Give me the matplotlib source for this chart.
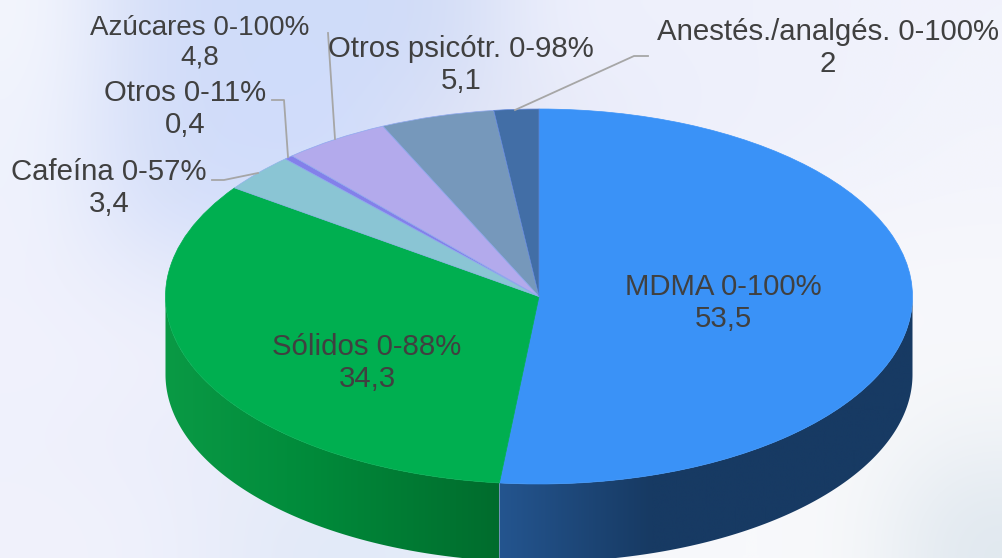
import numpy as np
import matplotlib
matplotlib.use('Agg')
import matplotlib.pyplot as plt
from matplotlib.colors import to_rgb
from matplotlib.patches import Polygon

names = ['MDMA 0-100%', 'Sólidos 0-88%', 'Cafeína 0-57%', 'Otros 0-11%',
         'Azúcares 0-100%', 'Otros psicótr. 0-98%', 'Anestés./analgés. 0-100%']
values = [53.5, 34.3, 3.4, 0.4, 4.8, 5.1, 2]
value_labels = ['53,5', '34,3', '3,4', '0,4', '4,8', '5,1', '2']
colors = ['#3a92f7', '#00af50', '#8ac5d4', '#8380ea', '#b3aaec', '#7698bb', '#426ea6']
edges = ['#3a92f7', '#00af50', '#8fb4e8', '#8fa8ee', '#8fa8ee', '#8fa8ee', '#5f86d8']

W, H = 1002, 558
cx, cy, rx, ry, depth = 539, 296.5, 373.5, 187.5, 78

# label centres in pixels
label_pos = [(723, 303), (367, 363), (109, 188), (185, 109), (200, 43), (461, 65), (828, 48)]
label_sizes = [21.2, 21.2, 21.2, 21.2, 20, 21.2, 21.2]
leaders = [
    [(328, 33), (335, 139)],
    [(272, 100), (284, 100), (288, 157)],
    [(212, 180), (224, 180), (258, 173)],
    [(515, 110), (634, 56), (648, 56)],
]

# soft page background
bg = np.array([
    ['#f4f6fd', '#d3ddf8', '#cfdcfa', '#cfdcfa', '#d2dcf6', '#eef0fc', '#eef0fc', '#eff1fc', '#f0f2fc', '#f2f3fc'],
    ['#f0f3fd', '#d3ddf8', '#d0dcfb', '#d0dcfb', '#dde2f6', '#e6e9f8', '#eceefb', '#eff1fc', '#f0f2fc', '#f3f4fc'],
    ['#f0f3fd', '#d6dff9', '#d2defb', '#d2defb', '#e3e7f8', '#eef0fb', '#f0f2fc', '#f2f3fc', '#f3f4fc', '#f4f5fc'],
    ['#f0f1fc', '#e8ecfb', '#e4e9fa', '#e8ecfa', '#eef0fb', '#f2f3fc', '#f4f5fc', '#f6f6fc', '#f7f7fc', '#f7f8fc'],
    ['#f1f2fd', '#f0f1fc', '#eef0fc', '#eff1fc', '#f2f3fc', '#f5f6fc', '#f7f8fc', '#f8f9fc', '#f8f9fb', '#f7f8fb'],
    ['#eff1fc', '#eceefb', '#e9ecf9', '#eef1fb', '#f0f3fb', '#f6f7fc', '#f8f9fc', '#f8f9fb', '#f8f9fb', '#f0f3f7'],
    ['#f1f2fc', '#eff1fc', '#e6ebf9', '#e0e9f8', '#e6edf9', '#f3f5fb', '#f8f9fc', '#f8f9fb', '#f8f9fb', '#e0e8ef'],
])
bg_rgb = np.array([[to_rgb(c) for c in row] for row in bg])

fig = plt.figure(figsize=(W / 100, H / 100), dpi=100)
ax = fig.add_axes([0, 0, 1, 1])

wedges, _ = ax.pie(values, colors=colors, startangle=90, counterclock=False, radius=1)
for w, e in zip(wedges, edges):
    w.set_zorder(3)
    w.set_edgecolor(e)
    w.set_linewidth(0.5)

ax.set_aspect('auto')
xlim = (-cx / rx, (W - cx) / rx)
ylim = ((cy - H) / ry, cy / ry)
ax.imshow(bg_rgb, extent=(*xlim, *ylim), aspect='auto', interpolation='bicubic', zorder=0)
ax.set_xlim(xlim)
ax.set_ylim(ylim)
ax.axis('off')

# side wall, a horizontal gradient clipped to each slice's rim
fracs = np.cumsum([0] + values) / sum(values)
d = depth / ry
side_shades = {
    0: ([-0.105, 0.3, 1.0], ['#24558f', '#173a63', '#173a63']),
    1: ([-1.0, -0.6, -0.105], ['#0a9a45', '#008a3a', '#006c2d']),
}
for i, (xs, cols) in side_shades.items():
    a0 = max(90 - 360 * fracs[i + 1], -180)
    a1 = min(90 - 360 * fracs[i], 0)
    t = np.radians(np.linspace(a0, a1, 300))
    top = np.column_stack([np.cos(t), np.sin(t)])
    bottom = np.column_stack([np.cos(t), np.sin(t) - d])[::-1]
    clip = Polygon(np.vstack([top, bottom]), closed=True, transform=ax.transData)
    rgb = np.array([to_rgb(c) for c in cols])
    gx = np.linspace(np.cos(t).min(), np.cos(t).max(), 400)
    grad = np.stack([np.interp(gx, xs, rgb[:, j]) for j in range(3)], axis=-1)[None, :, :]
    im = ax.imshow(grad, extent=(gx[0], gx[-1], ylim[0], 0.2), aspect='auto', zorder=2)
    im.set_clip_path(clip)
ax.set_xlim(xlim)
ax.set_ylim(ylim)

for name, val, (px, py), fs in zip(names, value_labels, label_pos, label_sizes):
    ax.text(px, H - py, name + '\n' + val, transform=None, ha='center', va='center',
            fontsize=fs, family='Liberation Sans', color='#404040', linespacing=1.2, zorder=5)

for pts in leaders:
    xs = [p[0] for p in pts]
    ys = [H - p[1] for p in pts]
    ax.plot(xs, ys, transform=None, color='#a6a6a6', lw=1.3, zorder=4)

fig.savefig('out.png', dpi=100)
